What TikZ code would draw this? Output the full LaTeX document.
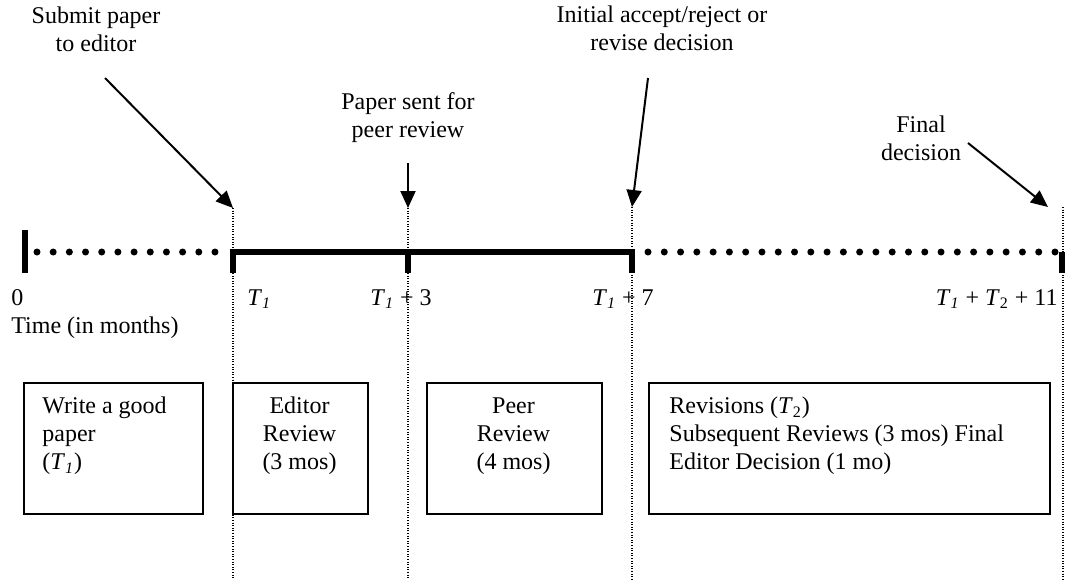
\documentclass[tikz,border=0pt]{standalone}
\usepackage{fontspec}
\setmainfont{Liberation Serif}
\usetikzlibrary{arrows.meta,calc}
\newcommand\TOne{\textit{T}\textsubscript{\textit{1}}}
\newcommand\TTwo{\textit{T}\textsubscript{2}}
\begin{document}
\begin{tikzpicture}[x=0.5pt,y=-0.5pt,
  lbl/.style={inner sep=0pt,font=\fontsize{12pt}{14pt}\selectfont},
  mlbl/.style={lbl,align=center},
  box/.style={draw,line width=0.9pt,inner sep=0pt},
  callout/.style={line width=1pt,-{Triangle[length=8.5pt,width=7.5pt]}},
  guide/.style={line width=0.7pt,dash pattern=on 0.5pt off 0.8pt},
  thick bar/.style={line width=3.2pt},
  dot/.style={fill=black}
]
\useasboundingbox (0,0) rectangle (1065,579);

% guide lines (dotted verticals)
\coordinate (g1t) at (233,208); \coordinate (g1b) at (233,579);
\coordinate (g2t) at (408,208); \coordinate (g2b) at (408,579);
\coordinate (g3t) at (632,207); \coordinate (g3b) at (632,579);
\coordinate (g4t) at (1063,207); \coordinate (g4b) at (1063,579);
\draw[guide] (g1t) -- (g1b);
\draw[guide] (g2t) -- (g2b);
\draw[guide] (g3t) -- (g3b);
\draw[guide] (g4t) -- (g4b);

% timeline
\coordinate (t0top) at (25,230); \coordinate (t0bot) at (25,273);
\draw[thick bar] (t0top) -- (t0bot);
\foreach \i in {0,...,11} \fill[dot] (37+16.18*\i,252) circle[radius=1.75pt];
\foreach \i in {0,...,25} \fill[dot] (648+16.28*\i,252) circle[radius=1.75pt];
\coordinate (t1) at (233,252); \coordinate (t1b) at (233,273);
\coordinate (t3) at (408,252); \coordinate (t3b) at (408,273);
\coordinate (t7) at (632,252); \coordinate (t7b) at (632,273);
\coordinate (te) at (1062,252); \coordinate (teb) at (1062,273);
\draw[thick bar] (t1b) -- (t1) -- (t7) -- (t7b);
\draw[thick bar] (t3) -- (t3b);
\draw[thick bar] (te) -- (teb);

% tick labels
\node[lbl,anchor=base west] (l0) at (11,305) {0};
\node[lbl,anchor=base west] (ltime) at (11,333) {Time (in months)};
\node[lbl,anchor=base west] (l1) at (247,305) {\TOne};
\node[lbl,anchor=base] (l3) at (401,305) {\TOne{} + 3};
\node[lbl,anchor=base] (l7) at (623,305) {\TOne{} + 7};
\node[lbl,anchor=base east] (l11) at (1058,305) {\TOne{} + \TTwo{} + 11};

% callouts
\node[mlbl] (c1) at (96,29) {Submit paper\\to editor};
\node[mlbl] (c2) at (408,118) {Paper sent for\\peer review};
\node[mlbl] (c3) at (662,28) {Initial accept/reject or\\revise decision};
\node[mlbl] (c4) at (921,138) {Final\\decision};
\coordinate (a1) at (105,78);
\coordinate (a2) at (408,163);
\coordinate (a3) at (648,78);
\coordinate (a4) at (968,143);
\coordinate (a4e) at (1048,207);
\draw[callout] (a1) -- (g1t);
\draw[callout] (a2) -- (g2t);
\draw[callout] (a3) -- (g3t);
\draw[callout] (a4) -- (a4e);

% boxes
\node[box,anchor=north west,minimum width=89.5pt,minimum height=65.5pt] (b1) at (23,382) {};
\node[box,anchor=north west,minimum width=67.5pt,minimum height=65.5pt] (b2) at (232,382) {};
\node[box,anchor=north west,minimum width=87.5pt,minimum height=65.5pt] (b3) at (426,382) {};
\node[box,anchor=north west,minimum width=200.5pt,minimum height=65.5pt] (b4) at (648,382) {};
\node[lbl,align=left,anchor=west] (x1) at (42,436) {Write a good\\paper\\(\TOne)};
\node[mlbl] (x2) at (299.5,436) {Editor\\Review\\(3 mos)};
\node[mlbl] (x3) at (513.5,436) {Peer\\Review\\(4 mos)};
\node[lbl,align=left,anchor=west] (x4) at (669,436) {Revisions (\TTwo)\\Subsequent Reviews (3 mos) Final\\Editor Decision (1 mo)};
\end{tikzpicture}
\end{document}
